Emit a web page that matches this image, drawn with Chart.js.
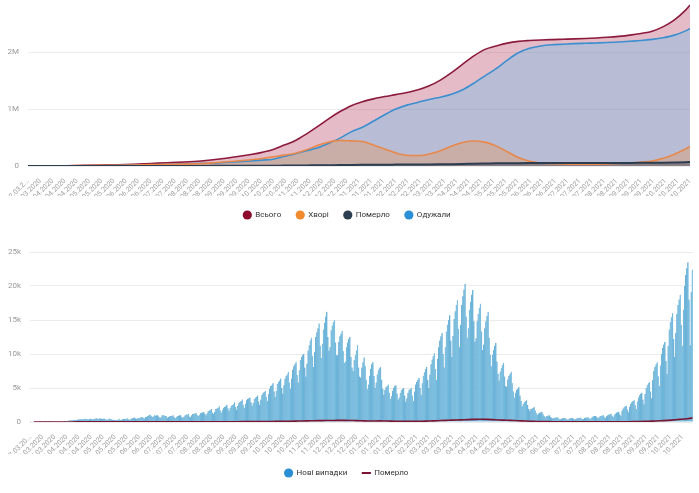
<!DOCTYPE html>
<html lang="uk">
<head>
<meta charset="UTF-8">
<title>COVID-19 Україна</title>
<style>
    body { margin: 0; background: #fff; font-family: Roboto, sans-serif; }
    .box { position: absolute; left: 0; width: 699px; }
    #topBox { top: 0; height: 230px; }
    #bottomBox { top: 230px; height: 263px; }
</style>
<script src="https://cdn.jsdelivr.net/npm/chart.js"></script>
</head>
<body>
<div class="box" id="topBox"><canvas id="totalChart"></canvas></div>
<div class="box" id="bottomBox"><canvas id="dailyChart"></canvas></div>
<script>
// ---- top chart: cumulative, day offsets from 12.03.2020 ----
const topDays = [0, 20, 35, 50, 65, 80, 95, 110, 125, 140, 155, 170, 185, 200, 210, 220, 230, 240, 250, 260,
    270, 280, 290, 300, 310, 320, 330, 340, 350, 360, 370, 380, 390, 400, 410, 420, 430, 440, 450, 460,
    470, 480, 490, 500, 510, 520, 530, 540, 550, 560, 570, 580, 590, 594];
const totalCases = [1, 800, 4200, 10900, 17300, 22800, 31200, 44300, 56500, 70000, 89000, 119000, 157000, 203000,
    240000, 289000, 368000, 448000, 565000, 695000, 834000, 957000, 1060000, 1130000, 1180000, 1220000, 1255000,
    1292000, 1340000, 1410000, 1510000, 1640000, 1790000, 1935000, 2050000, 2110000, 2160000, 2190000, 2205000,
    2215000, 2222000, 2228000, 2234000, 2241000, 2250000, 2262000, 2278000, 2300000, 2330000, 2370000, 2450000,
    2570000, 2740000, 2830000];
const activeCases = [1, 770, 3990, 9130, 12010, 12630, 16300, 24150, 28100, 32320, 41030, 61530, 83800, 111000,
    132300, 163500, 191300, 224800, 284800, 363000, 419800, 450400, 441500, 429700, 368000, 296800, 230700,
    190000, 185000, 212000, 270000, 347800, 414500, 440000, 420000, 353500, 251300, 149500, 83300, 52700,
    39400, 35200, 31000, 30700, 33400, 38100, 43700, 53200, 69200, 87700, 135700, 207500, 298300, 345500];
const deathsTotal = [0, 20, 110, 270, 490, 670, 900, 1150, 1400, 1680, 1970, 2470, 3200, 4000, 4700, 5500, 6700,
    8200, 10200, 12000, 14200, 16600, 18500, 20300, 22000, 23200, 24300, 25200, 26500, 28000, 30000, 32200,
    35500, 39500, 43000, 46500, 48700, 50500, 51700, 52300, 52600, 52800, 53000, 53300, 53600, 53900, 54300,
    54800, 55800, 57300, 59300, 62500, 66700, 69500];
const recoveredTotal = [0, 10, 100, 1500, 4800, 9500, 14000, 19000, 27000, 36000, 46000, 55000, 70000, 88000,
    103000, 120000, 170000, 215000, 270000, 320000, 400000, 490000, 600000, 680000, 790000, 900000, 1000000,
    1070000, 1120000, 1170000, 1210000, 1260000, 1340000, 1455000, 1585000, 1710000, 1860000, 1990000, 2070000,
    2110000, 2130000, 2140000, 2150000, 2157000, 2163000, 2170000, 2180000, 2192000, 2205000, 2225000, 2255000,
    2300000, 2375000, 2415000];
const topNames = ['Всього', 'Хворі', 'Померло', 'Одужали'];
const topColors = ['#8b0a2e', '#f08a2c', '#2c3e50', '#2b8fd6'];
const topTicks = [0, 1000000, 2000000];

// ---- bottom chart: daily, from 03.03.2020, one row per week (Tue..Mon) ----
const newCases = [
    1, 0, 0, 0, 0, 0, 0,
    0, 0, 1, 1, 0, 0, 4,
    7, 2, 10, 3, 18, 26, 29,
    40, 43, 62, 93, 45, 108, 66,
    96, 153, 127, 168, 149, 164, 89,
    205, 244, 250, 250, 301, 318, 270,
    308, 351, 372, 403, 400, 411, 392,
    477, 478, 445, 420, 376, 477, 476,
    390, 418, 455, 520, 550, 507, 393,
    540, 504, 477, 494, 533, 425, 375,
    325, 396, 524, 414, 415, 335, 325,
    322, 258, 317, 342, 442, 340, 339,
    389, 477, 463, 416, 550, 480, 344,
    414, 507, 557, 627, 679, 520, 491,
    585, 567, 650, 753, 687, 609, 523,
    731, 758, 900, 1000, 1109, 920, 758,
    806, 1000, 930, 1000, 1000, 807, 630,
    684, 1000, 1000, 946, 900, 850, 619,
    725, 835, 881, 918, 1000, 700, 557,
    726, 886, 929, 1000, 1000, 690, 657,
    805, 1000, 1100, 1083, 1200, 800, 700,
    1000, 1192, 1197, 1271, 1300, 1000, 900,
    1050, 1300, 1400, 1400, 1500, 1200, 1000,
    1300, 1600, 1700, 1800, 1900, 1400, 1200,
    1500, 1900, 2000, 2100, 2300, 1700, 1400,
    1800, 2100, 2200, 2300, 2500, 2000, 1600,
    2100, 2400, 2500, 2600, 2900, 2200, 1800,
    2400, 2800, 3000, 3100, 3300, 2500, 2100,
    2700, 3200, 3400, 3500, 3600, 2900, 2400,
    2800, 3400, 3600, 3700, 3900, 3000, 2500,
    3300, 4000, 4300, 4400, 4600, 3700, 3100,
    4100, 4900, 5300, 5400, 5700, 4500, 3700,
    4600, 5600, 5900, 6100, 6400, 5000, 4200,
    5400, 6400, 6800, 7000, 7400, 5800, 4900,
    6400, 7700, 8200, 8500, 8800, 6900, 5800,
    7600, 9100, 9600, 9800, 10000, 8000, 6700,
    8600, 10500, 11300, 12000, 12400, 9700, 8100,
    10300, 12500, 13200, 13800, 14500, 11200, 9400,
    11500, 13600, 14600, 15500, 16200, 12500, 10500,
    11000, 13500, 14200, 14700, 15000, 11700, 9800,
    9800, 11800, 12600, 13000, 13400, 10400, 8700,
    8900, 11000, 11700, 12200, 12500, 9600, 8000,
    7500, 9100, 9800, 10500, 11300, 8000, 6700,
    6500, 8000, 8800, 9500, 8200, 6200, 4800,
    5500, 6800, 7800, 8500, 8800, 6800, 5000,
    5800, 7000, 7600, 7900, 8100, 6200, 4900,
    4000, 4700, 5100, 5300, 5500, 4300, 3400,
    3800, 4600, 5000, 5300, 5400, 4200, 3300,
    3600, 4300, 4700, 4900, 5000, 3900, 3000,
    3500, 4300, 4700, 4900, 5000, 3900, 3100,
    4500, 5500, 5900, 6200, 6500, 5000, 4000,
    5700, 6800, 7300, 7800, 8100, 6200, 5000,
    7000, 8500, 9200, 9700, 10100, 7800, 6200,
    9300, 11000, 12000, 12600, 13100, 10000, 8000,
    11000, 13300, 14300, 15000, 15700, 12000, 9600,
    12700, 15200, 16300, 17200, 17900, 13700, 11000,
    14300, 17200, 18500, 19500, 20300, 15500, 12400,
    13800, 16500, 17700, 18700, 19400, 14800, 11800,
    12300, 14800, 15900, 16800, 17400, 13300, 10600,
    11400, 13800, 14800, 15600, 16200, 12400, 9900,
    8200, 9900, 10600, 11200, 11600, 8900, 7100,
    6100, 7400, 7900, 8400, 8700, 6700, 5300,
    5200, 6300, 6800, 7100, 7400, 5700, 4500,
    3600, 4300, 4700, 4900, 5100, 3900, 3100,
    2300, 2700, 2900, 3100, 3200, 2500, 1900,
    1600, 1900, 2000, 2100, 2200, 1700, 1300,
    1050, 1250, 1350, 1450, 1500, 1150, 900,
    700, 850, 920, 960, 1000, 770, 600,
    500, 600, 650, 680, 700, 540, 420,
    420, 510, 560, 590, 600, 460, 360,
    420, 500, 550, 580, 600, 460, 360,
    450, 540, 600, 630, 650, 500, 390,
    490, 590, 650, 680, 700, 540, 420,
    630, 760, 830, 870, 900, 690, 540,
    700, 850, 920, 960, 1000, 770, 600,
    850, 1000, 1100, 1150, 1200, 920, 720,
    1050, 1250, 1400, 1450, 1500, 1150, 900,
    1700, 2000, 2200, 2300, 2400, 1850, 1450,
    2250, 2700, 2950, 3100, 3200, 2450, 1900,
    3000, 3600, 3950, 4150, 4300, 3300, 2600,
    4100, 5000, 5400, 5700, 5900, 4500, 3500,
    6200, 7500, 8100, 8500, 8800, 6700, 5300,
    8300, 10000, 10900, 11400, 11800, 9000, 7100,
    11200, 13600, 14700, 15400, 16000, 12200, 9600,
    13100, 15900, 17200, 18000, 18700, 14300, 11200,
    16500, 20000, 21600, 22600, 23500, 18000, 11300,
    19100, 22400
];
// weekly average of daily deaths, one value per week row above
const deathsWeekly = [0, 0, 1, 2, 5, 10, 12, 14, 12, 15, 13, 12, 14, 14, 16, 16, 18, 17, 16, 18, 17, 20,
    22, 26, 30, 36, 45, 50, 58, 55, 65, 80, 95, 110, 130, 150, 180, 200, 210, 230, 240, 230, 200, 160, 150,
    160, 150, 120, 110, 100, 110, 130, 170, 210, 260, 300, 330, 380, 400, 390, 330, 280, 240, 180, 140,
    100, 70, 55, 40, 35, 30, 28, 28, 30, 30, 32, 35, 40, 55, 75, 100, 150, 200, 280, 380, 480, 600];

function fmtDate(start, offset) {
    const d = new Date(start);
    d.setDate(d.getDate() + offset);
    const dd = String(d.getDate()).padStart(2, '0');
    const mm = String(d.getMonth() + 1).padStart(2, '0');
    return dd + '.' + mm + '.' + d.getFullYear();
}

const dayLabels = newCases.map((v, i) => fmtDate(new Date(2020, 2, 3), i));

Chart.defaults.font.family = "Roboto, sans-serif";
Chart.defaults.color = '#999';
Chart.defaults.animation = false;

function legendLabels(colors, styles) {
    return {
        usePointStyle: true,
        boxHeight: 6.5,
        padding: 15,
        color: '#333',
        font: { size: 8 },
        sort: (a, b) => a.datasetIndex - b.datasetIndex,
        generateLabels(chart) {
            const items = Chart.defaults.plugins.legend.labels.generateLabels(chart);
            items.forEach(it => {
                const c = colors[it.datasetIndex];
                it.fillStyle = c;
                it.strokeStyle = c;
                it.lineWidth = 0;
                if (styles && styles[it.datasetIndex] === 'line') {
                    it.pointStyle = 'line';
                    it.lineWidth = 2;
                }
            });
            return items;
        }
    };
}

// y axis: fixed width, no extra label padding on top/bottom
function fixY(width) {
    return s => {
        s.width = width;
        s.paddingTop = 0;
        s.paddingBottom = 0;
    };
}

// Top chart
const fills = ['rgba(165,30,70,0.3)', 'rgba(240,140,60,0.3)', 'rgba(40,55,80,0.4)', 'rgba(100,190,240,0.34)'];
const lineCols = ['#8c1a3c', '#e8884a', '#2d3e50', '#3a8fd0'];
const topSeries = [totalCases, activeCases, deathsTotal, recoveredTotal];
const topOrder = [3, 1, 0, 2];

new Chart(document.getElementById('totalChart'), {
    type: 'line',
    data: {
        datasets: topSeries.map((arr, k) => ({
            label: topNames[k],
            data: arr.map((v, i) => ({ x: topDays[i], y: v })),
            borderColor: lineCols[k],
            backgroundColor: fills[k],
            borderWidth: k === 2 ? 2 : 1.6,
            fill: 'origin',
            pointRadius: 0,
            cubicInterpolationMode: 'monotone',
            order: topOrder[k]
        }))
    },
    options: {
        responsive: true,
        maintainAspectRatio: false,
        layout: { padding: { top: 1, right: 5, left: 0, bottom: 1 } },
        plugins: {
            legend: { position: 'bottom', labels: legendLabels(topColors) },
            tooltip: { enabled: false },
            filler: { drawTime: 'beforeDatasetsDraw' }
        },
        scales: {
            x: {
                type: 'linear',
                min: 0,
                max: 594,
                grid: { display: false },
                border: { display: false },
                ticks: {
                    stepSize: 11,
                    autoSkip: false,
                    minRotation: 45,
                    maxRotation: 45,
                    padding: 3,
                    color: '#a0a0a0',
                    font: { size: 7 },
                    callback: v => v === 0 ? '12.03.2...' : fmtDate(new Date(2020, 2, 12), v)
                },
                afterFit: s => { s.height = 30; }
            },
            y: {
                min: 0,
                max: 2900000,
                grid: { color: '#ececec', drawTicks: false },
                border: { display: false },
                ticks: {
                    autoSkip: false,
                    padding: 9,
                    font: { size: 8 },
                    callback: v => v === 0 ? '0' : (v / 1000000) + 'M'
                },
                afterBuildTicks: s => { s.ticks = topTicks.map(v => ({ value: v })); },
                afterFit: fixY(28)
            }
        }
    }
});

// Bottom chart
const deathPoints = deathsWeekly.map((v, k) => ({ x: dayLabels[Math.min(k * 7 + 3, dayLabels.length - 1)], y: v }));

new Chart(document.getElementById('dailyChart'), {
    data: {
        labels: dayLabels,
        datasets: [
            {
                type: 'bar',
                label: 'Нові випадки',
                data: newCases,
                backgroundColor: '#86c5e3',
                borderColor: '#4f9fcd',
                borderWidth: { left: 0.5, right: 0, top: 0, bottom: 0 },
                barPercentage: 1,
                categoryPercentage: 1,
                order: 1
            },
            {
                type: 'line',
                label: 'Померло',
                data: deathPoints,
                borderColor: '#7b1430',
                borderWidth: 1.6,
                pointRadius: 0,
                tension: 0.2,
                order: 0
            }
        ]
    },
    options: {
        responsive: true,
        maintainAspectRatio: false,
        layout: { padding: { top: 22, right: 6, left: 0, bottom: 6 } },
        plugins: {
            legend: { position: 'bottom', labels: legendLabels(['#2b8fd6', '#7b1430'], ['circle', 'line']) },
            tooltip: { enabled: false }
        },
        scales: {
            x: {
                grid: { display: false },
                border: { display: false },
                ticks: {
                    autoSkip: false,
                    minRotation: 45,
                    maxRotation: 45,
                    padding: 3,
                    color: '#a0a0a0',
                    font: { size: 7 },
                    callback: (v, i) => i === 0 ? '03.03.20...' : (i % 11 === 0 ? dayLabels[i] : null)
                },
                afterFit: s => { s.height = 32; }
            },
            y: {
                min: 0,
                max: 25000,
                grid: { color: '#ececec', drawTicks: false },
                border: { display: false },
                ticks: {
                    stepSize: 5000,
                    padding: 9,
                    font: { size: 8 },
                    callback: v => v === 0 ? '0' : (v / 1000) + 'k'
                },
                afterFit: fixY(30)
            }
        }
    }
});
</script>
</body>
</html>
